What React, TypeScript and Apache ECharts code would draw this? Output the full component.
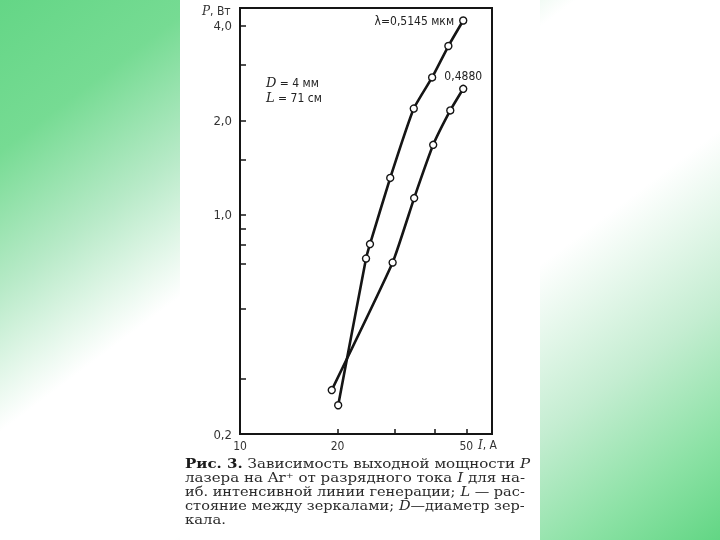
import React, { useEffect, useRef } from "react";
import * as echarts from "echarts";

// λ = 0,5145 мкм
const currentA = [20.1, 24.5, 25.2, 29.1, 34.4, 39.2, 44.0, 48.9];
const powerA = [0.247, 0.725, 0.806, 1.31, 2.18, 2.74, 3.45, 4.16];
// λ = 0,4880 мкм
const currentB = [19.2, 29.6, 34.5, 39.5, 44.6, 48.9];
const powerB = [0.276, 0.704, 1.13, 1.67, 2.15, 2.52];

const yTickValues = [0.2, 0.3, 0.5, 0.7, 0.8, 0.9, 1, 1.5, 2, 3, 4];
const yLabelValues = [0.2, 1, 2, 4];
const xTickValues = [20, 30, 40, 50];
const xLabelValues = [10, 20, 50];

const labelA = "λ=0,5145 мкм";
const labelB = "0,4880";

const captionLines = [
  "{b|Рис. 3.} Зависимость выходной мощности {i|P}",
  "лазера на Ar⁺ от разрядного тока {i|I} для на-",
  "иб. интенсивной линии генерации; {i|L} — рас-",
  "стояние между зеркалами; {i|D}—диаметр зер-",
  "кала.",
];

const INK = "#151515";
const SANS = "'DejaVu Sans Condensed', 'Liberation Sans Narrow', 'DejaVu Sans', sans-serif";
const SERIF = "'DejaVu Serif', 'Liberation Serif', serif";
const CAP_SIZE = 13;
const CAP_WIDTH = 340;

function measure(text: string, font: string): number {
  const c = document.createElement("canvas").getContext("2d");
  if (!c) return text.length * 7.5;
  c.font = font;
  return c.measureText(text).width;
}

export default function App() {
  const ref = useRef<HTMLDivElement>(null);
  useEffect(() => {
    const chart = echarts.init(ref.current!, null, { renderer: "svg" });
    const dataA = currentA.map((x, i) => {
      const item: any = { value: [x, powerA[i]] };
      if (i === currentA.length - 1) {
        item.label = {
          show: true,
          position: "left",
          distance: 5,
          formatter: labelA,
          color: "#222",
          fontFamily: SANS,
          fontSize: 12,
        };
      }
      return item;
    });
    const dataB = currentB.map((x, i) => {
      const item: any = { value: [x, powerB[i]] };
      if (i === currentB.length - 1) {
        item.label = {
          show: true,
          position: "top",
          distance: 3,
          formatter: labelB,
          color: "#222",
          fontFamily: SANS,
          fontSize: 12,
        };
      }
      return item;
    });
    const seriesCommon = {
      type: "line",
      smooth: 0.15,
      symbol: "circle",
      symbolSize: 7,
      lineStyle: { color: INK, width: 2.6 },
      itemStyle: { color: "#ffffff", borderColor: INK, borderWidth: 1.4 },
      z: 3,
    };
    const capFont = `${CAP_SIZE}px ${SERIF}`;
    const scales = captionLines.map((line) => {
      const plain = line.replace(/\{[a-z]\|([^}]*)\}/g, "$1");
      const w = measure(plain, capFont);
      return Math.max(0.9, Math.min(1.3, CAP_WIDTH / w));
    });
    const avgScale = (scales[0] + scales[1] + scales[2] + scales[3]) / 4;
    const captionGraphics = captionLines.map((line, i) => ({
      type: "text",
      x: 185,
      y: 457 + i * 13.9,
      scaleX: i === captionLines.length - 1 ? avgScale : scales[i],
      z: 100,
      style: {
        text: line,
        fill: "#2a2a2a",
        font: capFont,
        lineHeight: 13,
        rich: {
          b: { fontWeight: "bold", fontSize: CAP_SIZE, fontFamily: SERIF, fill: "#1a1a1a", lineHeight: 13 },
          i: { fontStyle: "italic", fontSize: CAP_SIZE, fontFamily: SERIF, fill: "#2a2a2a", lineHeight: 13 },
        },
      },
    }));
    chart.setOption({
      animation: false,
      backgroundColor: "transparent",
      grid: {
        left: 240,
        top: 8,
        right: 228,
        bottom: 106,
        show: true,
        borderColor: INK,
        borderWidth: 2,
        backgroundColor: "transparent",
      },
      xAxis: {
        type: "log",
        logBase: 10,
        min: 10,
        max: 60,
        splitLine: { show: false },
        minorTick: { show: false },
        axisLine: { show: true, lineStyle: { color: INK, width: 2 } },
        axisTick: {
          show: true,
          inside: true,
          length: 5,
          customValues: xTickValues,
          lineStyle: { color: INK, width: 1.5 },
        },
        axisLabel: {
          show: true,
          customValues: xLabelValues,
          formatter: (v: number) => String(Math.round(v)),
          color: "#333",
          fontFamily: SANS,
          fontSize: 12,
          margin: 6,
        },
      },
      yAxis: {
        type: "log",
        logBase: 10,
        min: 0.2,
        max: 4.56,
        splitLine: { show: false },
        minorTick: { show: false },
        axisLine: { show: true, lineStyle: { color: INK, width: 2 } },
        axisTick: {
          show: true,
          inside: true,
          length: 6,
          customValues: yTickValues,
          lineStyle: { color: INK, width: 1.5 },
        },
        axisLabel: {
          show: true,
          customValues: yLabelValues,
          formatter: (v: number) => v.toFixed(1).replace(".", ","),
          color: "#333",
          fontFamily: SANS,
          fontSize: 13,
          margin: 8,
        },
      },
      series: [
        { ...seriesCommon, name: labelA, data: dataA },
        { ...seriesCommon, name: labelB, data: dataB },
      ],
      graphic: [
        {
          type: "rect",
          z: -20,
          silent: true,
          shape: { x: 0, y: 0, width: 720, height: 540 },
          style: {
            fill: new echarts.graphic.LinearGradient(0, 0, 1, 1, [
              { offset: 0, color: "#64d686" },
              { offset: 0.14, color: "#76db93" },
              { offset: 0.27, color: "#b8eac8" },
              { offset: 0.4, color: "#ffffff" },
              { offset: 0.62, color: "#ffffff" },
              { offset: 0.78, color: "#c4edd1" },
              { offset: 0.9, color: "#8de2a6" },
              { offset: 1, color: "#62d684" },
            ]),
          },
        },
        {
          type: "rect",
          z: -19,
          silent: true,
          shape: { x: 180, y: 0, width: 360, height: 540 },
          style: { fill: "#ffffff" },
        },
        {
          type: "text",
          left: 202,
          top: 5,
          z: 100,
          style: {
            text: "{i|P}, Вт",
            fill: "#333",
            font: `12px ${SANS}`,
            rich: { i: { fontStyle: "italic", fontSize: 12, fontFamily: SERIF, fill: "#333" } },
          },
        },
        {
          type: "text",
          left: 478,
          top: 439,
          z: 100,
          style: {
            text: "{i|I}, A",
            fill: "#333",
            font: `12px ${SANS}`,
            rich: { i: { fontStyle: "italic", fontSize: 12, fontFamily: SERIF, fill: "#333" } },
          },
        },
        {
          type: "text",
          left: 266,
          top: 76,
          z: 100,
          style: {
            text: "{i|D} = 4 мм",
            fill: "#222",
            font: `12px ${SANS}`,
            rich: { i: { fontStyle: "italic", fontSize: 13, fontFamily: SERIF, fill: "#222" } },
          },
        },
        {
          type: "text",
          left: 266,
          top: 91,
          z: 100,
          style: {
            text: "{i|L} = 71 см",
            fill: "#222",
            font: `12px ${SANS}`,
            rich: { i: { fontStyle: "italic", fontSize: 13, fontFamily: SERIF, fill: "#222" } },
          },
        },
        ...captionGraphics,
      ],
    });
    return () => chart.dispose();
  }, []);
  return (
    <div
      ref={ref}
      style={{ position: "fixed", left: 0, top: 0, width: 720, height: 540 }}
    />
  );
}
